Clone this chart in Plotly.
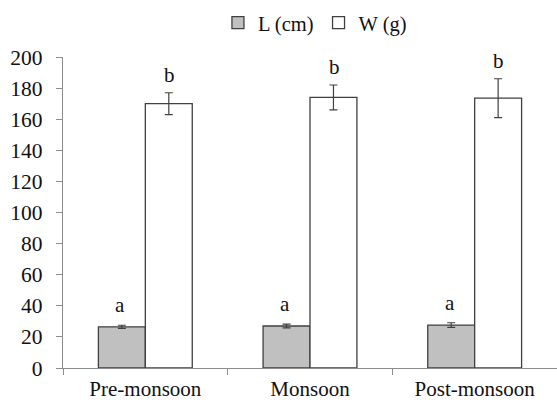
import plotly.graph_objects as go

categories = ["Pre-monsoon", "Monsoon", "Post-monsoon"]
length_cm = [26.5, 27.0, 27.6]
length_err = [1.0, 1.2, 1.5]
weight_g = [170.0, 174.0, 173.5]
weight_err = [7.0, 8.0, 12.5]
length_letters = ["a", "a", "a"]
weight_letters = ["b", "b", "b"]
y_ticks = [0, 20, 40, 60, 80, 100, 120, 140, 160, 180, 200]

FONT = "'Liberation Serif', 'Times New Roman', serif"
AXIS = "#8c8c8c"
EDGE = "#404040"

fig = go.Figure()
fig.add_trace(go.Bar(
    x=categories, y=length_cm, name="L (cm)",
    marker=dict(color="#c0c0c0", line=dict(color=EDGE, width=1.3)),
    error_y=dict(type="data", array=length_err, color=EDGE, thickness=1.2, width=4),
))
fig.add_trace(go.Bar(
    x=categories, y=weight_g, name="W (g)",
    marker=dict(color="white", line=dict(color=EDGE, width=1.3)),
    error_y=dict(type="data", array=weight_err, color=EDGE, thickness=1.2, width=4),
))

for i, c in enumerate(categories):
    fig.add_annotation(x=c, y=length_cm[i] + length_err[i], text=length_letters[i],
                       xref="x", yref="y", showarrow=False, yanchor="bottom",
                       xshift=-25, yshift=6, font=dict(family=FONT, size=21, color="#111"))
    fig.add_annotation(x=c, y=weight_g[i] + weight_err[i], text=weight_letters[i],
                       xref="x", yref="y", showarrow=False, yanchor="bottom",
                       xshift=24, yshift=4, font=dict(family=FONT, size=21, color="#111"))

fig.update_layout(
    width=557, height=402,
    margin=dict(l=63, r=0, t=57, b=34, autoexpand=False),
    paper_bgcolor="white", plot_bgcolor="white",
    barmode="group", bargap=0.43, bargroupgap=0,
    font=dict(family=FONT, size=20, color="#111"),
    showlegend=True,
    legend=dict(orientation="h", x=0.51, xanchor="center", y=1.11, yanchor="middle",
                font=dict(family=FONT, size=20.5, color="#111"),
                itemwidth=30, tracegroupgap=0, bgcolor="rgba(0,0,0,0)"),
    xaxis=dict(showline=True, linecolor=AXIS, linewidth=1.2, ticks="outside",
               tickson="boundaries", ticklen=6, tickcolor=AXIS, showgrid=False, automargin=False,
               tickfont=dict(family=FONT, size=21, color="#111"), ticklabelstandoff=2),
    yaxis=dict(range=[0, 200], tickvals=y_ticks, showline=True, linecolor=AXIS, linewidth=1.2,
               ticks="outside", ticklen=6, tickcolor=AXIS, showgrid=False, zeroline=False,
               automargin=False,
               tickfont=dict(family=FONT, size=21.5, color="#111"), ticklabelstandoff=9),
)

fig.write_html("out.html")
